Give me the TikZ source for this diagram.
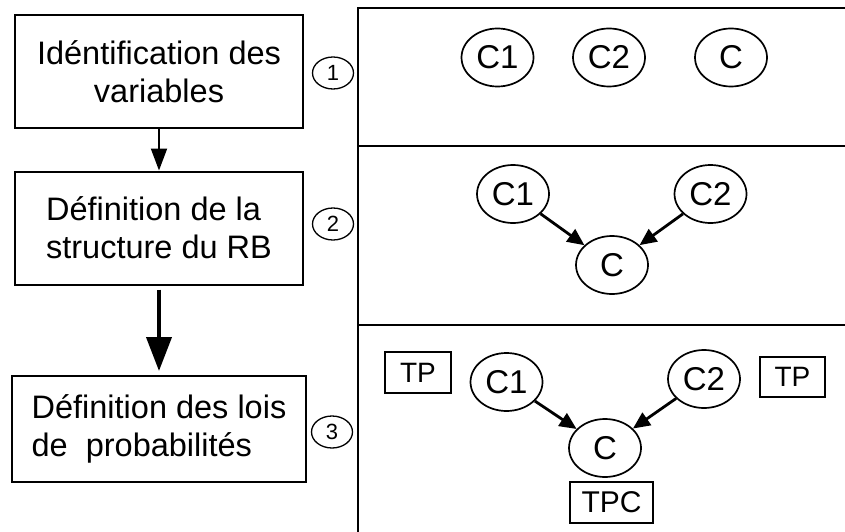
\documentclass[tikz,border=0pt]{standalone}
\usepackage{fontspec}
\setmainfont{Liberation Sans}
\usetikzlibrary{shapes.geometric, arrows.meta}

\tikzset{
  etape/.style={draw, line width=2pt, inner sep=0pt, minimum width=288pt, minimum height=113pt, font=\fontsize{32.5}{38}\selectfont},
  numero/.style={draw, ellipse, line width=1.3pt, inner sep=0pt, minimum width=41pt, minimum height=32pt, font=\fontsize{22}{22}\selectfont},
  var/.style={draw, ellipse, line width=1.7pt, inner sep=0pt, minimum width=72pt, minimum height=58pt, font=\fontsize{33}{33}\selectfont},
  tableau/.style={draw, line width=1.7pt, inner sep=0pt, minimum height=41pt, font=\fontsize{28}{28}\selectfont},
  fleche/.style={-{Triangle[length=22pt,width=16pt]}, line width=2pt},
  grossefleche/.style={-{Triangle[length=34pt,width=25pt]}, line width=4pt},
  lien/.style={-{Triangle[length=17pt,width=15pt]}, line width=2.8pt},
}

\begin{document}
\begin{tikzpicture}[x=1pt,y=-1pt]
      \useasboundingbox (0,0) rectangle (845,532);

      % etapes
      \node[etape, align=center] (ident) at (159,71.5) {Idéntification des\\variables};
      \node[etape, align=left] (struct) at (159,228) {Définition de la\\structure du RB};
      \node[etape, align=left, minimum width=294pt, minimum height=106pt] (lois) at (159,429) {Définition des lois\\de~ probabilités};

      \draw[fleche] (ident) -- (struct);
      \draw[grossefleche, shorten <=4pt, shorten >=4pt] (struct) -- (lois);

      \node[numero] (n1) at (333,73) {1};
      \node[numero] (n2) at (333,224) {2};
      \node[numero] (n3) at (332,432) {3};

      % cadre
      \draw[line width=1.6pt] (845,8) -| (358,532);
      \draw[line width=1.6pt] (358,146) -- (845,146);
      \draw[line width=1.6pt] (358,325) -- (845,325);

      \node[var] (a1) at (497.5,57.5) {C1};
      \node[var] (a2) at (609,57.5) {C2};
      \node[var] (a) at (731,57.5) {C};

      \node[var] (b1) at (513,194) {C1};
      \node[var] (b2) at (710.5,194) {C2};
      \node[var] (b) at (612,265) {C};
      \draw[lien] (b1) -- (b);
      \draw[lien] (b2) -- (b);

      \node[var] (c1) at (506.5,382) {C1};
      \node[var] (c2) at (704,379) {C2};
      \node[var] (c) at (605,448) {C};
      \draw[lien] (c1) -- (c);
      \draw[lien] (c2) -- (c);

      \node[tableau, minimum width=66pt] (tp1) at (418,372.5) {TP};
      \node[tableau, minimum width=65pt, minimum height=40pt] (tp2) at (792.5,377) {TP};
      \node[tableau, minimum width=83pt, font=\fontsize{30}{30}\selectfont] (tpc) at (611.5,502.5) {TPC};
    \end{tikzpicture}
\end{document}
